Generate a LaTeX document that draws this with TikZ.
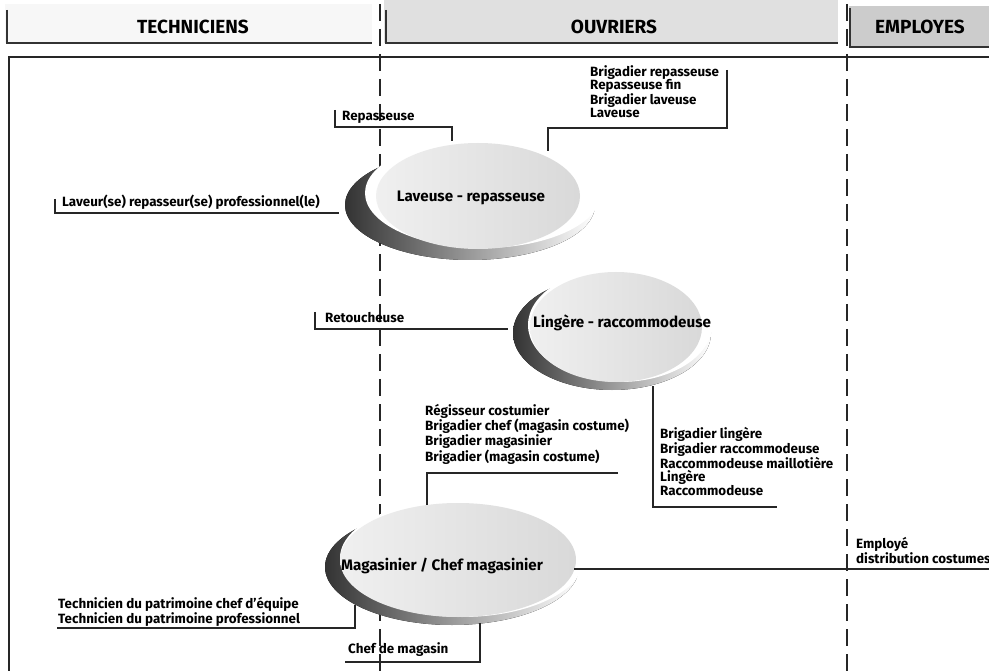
\documentclass[tikz,border=0pt]{standalone}
\usepackage{fontspec}
\setmainfont{Fira Sans}
\usetikzlibrary{shapes.geometric}

\tikzset{
  lbl/.style={font=\bfseries\fontsize{13.4}{13.5}\selectfont, align=left, inner sep=0pt},
  hdr/.style={font=\bfseries\fontsize{19}{20}\selectfont, inner sep=0pt},
  disctext/.style={font=\bfseries\fontsize{15.2}{16}\selectfont, inner sep=0pt},
  link/.style={line width=1.1pt, black!85},
  sep/.style={line width=1.2pt, black!85, dash pattern=on 17pt off 8pt},
  framerule/.style={line width=1.4pt, black!85},
  bandrule/.style={line width=2.4pt, black!80},
  disc/.style={ellipse, inner sep=0pt, draw=none, left color=gray!12, right color=gray!30},
  rim/.style={left color=black!80, middle color=gray!60, right color=white},
}

\begin{document}
\begin{tikzpicture}[x=1pt, y=-1pt]
\useasboundingbox (0,0) rectangle (989,671);

% ---- column headers
\fill[gray!6]  (5,4)   rectangle (372,43);
\fill[gray!24] (384,0) rectangle (838,43);
\fill[gray!40] (849,6) rectangle (989,47);
\draw[bandrule] (7,10)   -- (7,43)   -- (372,43);
\draw[bandrule] (386,10) -- (386,43) -- (838,43);
\draw[bandrule] (850,8)  -- (850,47) -- (989,47);
\node[hdr] (tech) at (193,27) {TECHNICIENS};
\node[hdr] (ouv)  at (614,27) {OUVRIERS};
\node[hdr] (emp)  at (920,27) {EMPLOYES};

% ---- frame and column separators
\draw[framerule] (989,57) -- (9,57) -- (9,671);
\draw[sep] (380,4) -- (380,671);
\draw[sep] (847,4) -- (847,671);

% ---- discs: dark rim, white gap, light top face
% Laveuse - repasseuse
\fill[rim]   (470,205) ellipse [x radius=125pt, y radius=55pt];
\fill[white] (483,193) ellipse [x radius=118pt, y radius=55pt];
\node[disc, minimum width=204pt, minimum height=106pt] (lav) at (478,196) {};
\node[disctext] (lavt) at (471,198) {Laveuse - repasseuse};

% Lingere - raccommodeuse
\fill[rim]   (612,333) ellipse [x radius=99pt, y radius=57pt];
\fill[white] (620,325) ellipse [x radius=92pt, y radius=57pt];
\node[disc, minimum width=172pt, minimum height=110pt] (lin) at (616,327) {};
\node[disctext] (lint) at (622,323) {Lingère - raccommodeuse};

% Magasinier / Chef magasinier
\fill[rim]   (452,567) ellipse [x radius=127pt, y radius=58pt];
\fill[white] (462,558) ellipse [x radius=122pt, y radius=59pt];
\node[disc, minimum width=236pt, minimum height=114pt] (mag) at (458,560) {};
\node[disctext] (magt) at (442,566) {Magasinier / Chef magasinier};

% ---- job titles
\node[lbl, anchor=north west] (l1) at (590,65) {Brigadier repasseuse\\Repasseuse fin\\Brigadier laveuse\\Laveuse};
\node[lbl, anchor=west] (rep) at (342,117) {Repasseuse};
\node[lbl, anchor=west] (lvr) at (62,202) {Laveur(se) repasseur(se) professionnel(le)};
\node[lbl, anchor=west] (ret) at (325,318) {Retoucheuse};
\node[lbl, anchor=north west] (l3) at (425,404) {Régisseur costumier\\Brigadier chef (magasin costume)\\Brigadier magasinier\\Brigadier (magasin costume)};
\node[lbl, anchor=north west] (l2) at (660,427) {Brigadier lingère\\Brigadier raccommodeuse\\Raccommodeuse maillotière\\Lingère\\Raccommodeuse};
\node[lbl, anchor=north west] (empl) at (856,537) {Employé\\distribution costumes};
\node[lbl, anchor=north west] (tec) at (58,597) {Technicien du patrimoine chef d'équipe\\Technicien du patrimoine professionnel};
\node[lbl, anchor=west] (chef) at (348,650) {Chef de magasin};

% ---- bracket connectors
\coordinate (l1a) at (727,70);  \coordinate (l1b) at (727,128);
\coordinate (l1c) at (548,128); \coordinate (l1d) at (548,151);
\draw[link] (l1a) -- (l1b) -- (l1c) -- (l1d);

\coordinate (repa) at (335,110); \coordinate (repb) at (335,127);
\coordinate (repc) at (452,127); \coordinate (repd) at (452,141);
\draw[link] (repa) -- (repb) -- (repc) -- (repd);

\coordinate (lvra) at (55,199); \coordinate (lvrb) at (55,213);
\coordinate (lvrc) at (339,213);
\draw[link] (lvra) -- (lvrb) -- (lvrc);

\coordinate (reta) at (315,312); \coordinate (retb) at (315,329);
\coordinate (retc) at (508,329);
\draw[link] (reta) -- (retb) -- (retc);

\coordinate (l2a) at (653,386); \coordinate (l2b) at (653,507);
\coordinate (l2c) at (777,507);
\draw[link] (l2a) -- (l2b) -- (l2c);

\coordinate (l3a) at (618,473); \coordinate (l3b) at (427,473);
\coordinate (l3c) at (427,505);
\draw[link] (l3a) -- (l3b) -- (l3c);

\coordinate (tecA) at (57,628); \coordinate (tecB) at (355,628);
\coordinate (tecC) at (355,605);
\draw[link] (tecA) -- (tecB) -- (tecC);

\coordinate (chfA) at (345,662); \coordinate (chfB) at (480,662);
\coordinate (chfC) at (480,623);
\draw[link] (chfA) -- (chfB) -- (chfC);

\coordinate (empA) at (574,569); \coordinate (empB) at (989,569);
\draw[link] (empA) -- (empB);
\end{tikzpicture}
\end{document}
